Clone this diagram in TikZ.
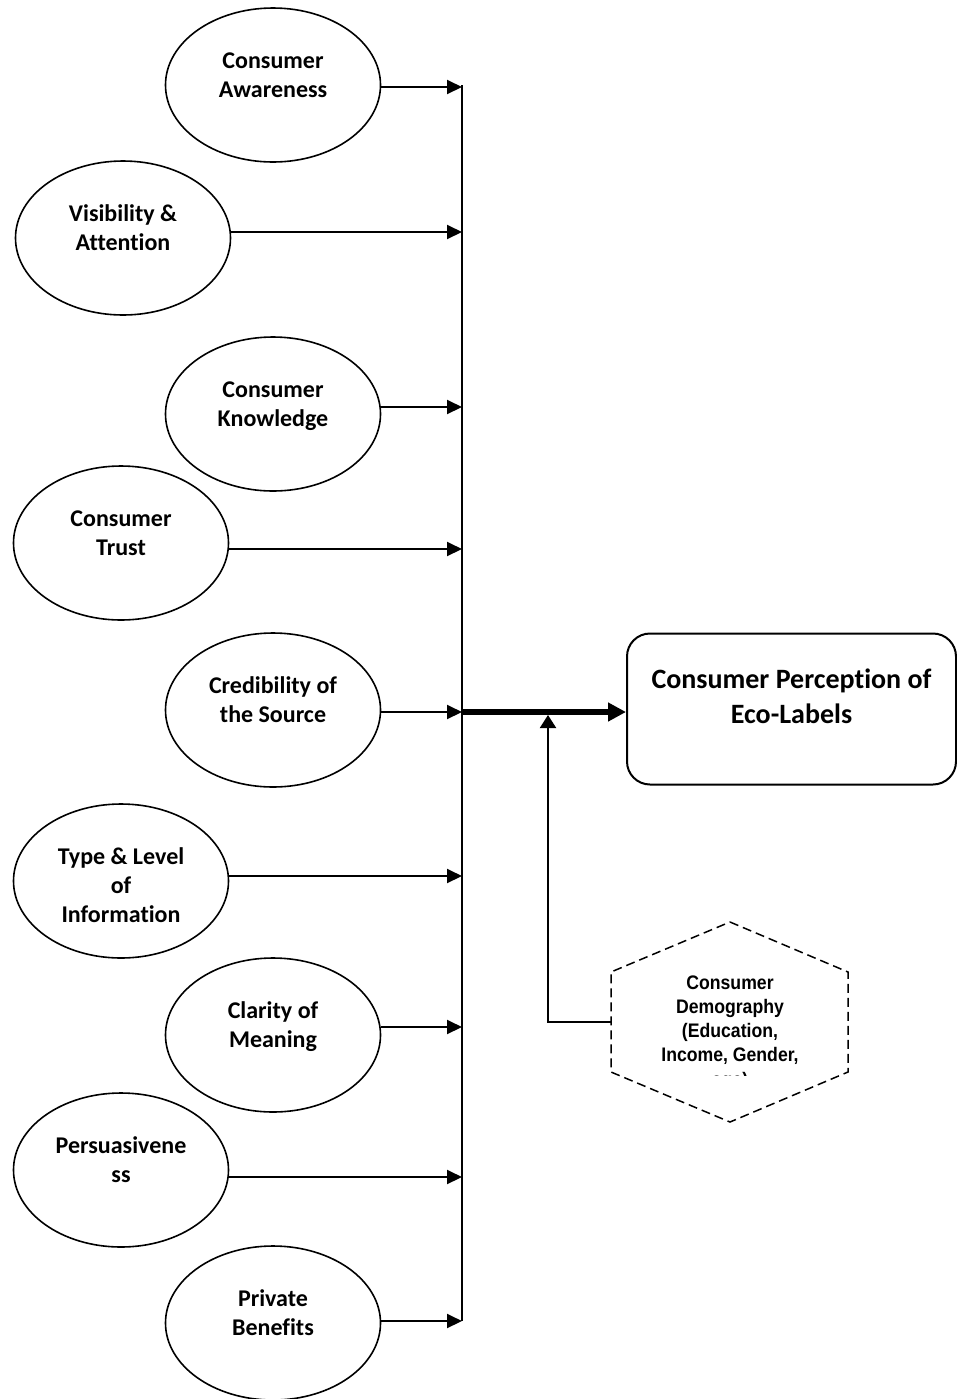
\documentclass[tikz,border=0pt]{standalone}
\usepackage{fontspec}
\setmainfont{Carlito}[Ligatures=NoCommon]
\newfontfamily\demofont{Liberation Sans}[FakeStretch=0.9]
\usetikzlibrary{arrows.meta,shapes.geometric}
\newcommand{\toptext}[2]{\raisebox{#1}[0pt][0pt]{\makebox[0pt]{\parbox[t]{200pt}{\centering #2}}}}

\begin{document}
\begin{tikzpicture}[x=0.5pt,y=-0.5pt,
     oval/.style={draw,ellipse,line width=0.8pt,inner sep=0pt,
       minimum width=107.5pt,minimum height=77pt,
       font=\bfseries\fontsize{12}{14.5}\selectfont},
     feed/.style={line width=1pt,-{Triangle[length=7.5pt,width=7pt]}}]
     \useasboundingbox (0,0) rectangle (957,1399);
     \node[oval] at (273,85) (aware) {\toptext{8.5pt}{Consumer\\Awareness}};
     \node[oval] at (123,238) (vis) {\toptext{8.5pt}{Visibility \&\\Attention}};
     \node[oval] at (273,414) (know) {\toptext{8.5pt}{Consumer\\Knowledge}};
     \node[oval] at (121,543) (trust) {\toptext{8.5pt}{Consumer\\Trust}};
     \node[oval] at (273,710) (cred) {\toptext{8.5pt}{Credibility of\\the Source}};
     \node[oval] at (121,881) (info) {\toptext{8.5pt}{Type \& Level\\of\\Information}};
     \node[oval] at (273,1035) (clar) {\toptext{8.5pt}{Clarity of\\Meaning}};
     \node[oval] at (121,1170) (pers) {\toptext{8.5pt}{Persuasivene\\ss}};
     \node[oval] at (273,1323) (priv) {\toptext{8.5pt}{Private\\Benefits}};
     \node[draw,rounded corners=11.5pt,line width=1pt,inner sep=0pt,
       minimum width=164.5pt,minimum height=75.5pt,
       font=\bfseries\fontsize{14}{17.5}\selectfont]
       at (791.5,709) (cpe) {\toptext{10.5pt}{Consumer Perception of\\Eco-Labels}};
     % bus
     \coordinate (bustop) at (462,85);
     \coordinate (busbot) at (462,1321);
     \draw[line width=1pt] (bustop) -- (busbot);
     \foreach \n/\y in {aware/87,vis/232,know/407,trust/549,cred/712,
                        info/876,clar/1027,pers/1177,priv/1321}
       {\coordinate (t\n) at (462,\y);
        \draw[feed] (\n.east |- t\n) -- (t\n);}
     \draw[line width=3pt,-{Triangle[length=9pt,width=9pt]}]
       (tcred) -- (cpe.west |- tcred);
     % demography
     \begin{scope}
       \clip (612,960) rectangle (848,1075);
       \node[inner sep=0pt,font=\demofont\bfseries\fontsize{9.8}{12.15}\selectfont]
         at (730,1022) (demog)
         {\toptext{16.5pt}{Consumer\\Demography\\(Education,\\Income, Gender,\\age)}};
     \end{scope}
     \draw[dashed,dash pattern=on 4.5pt off 2.5pt,line width=0.75pt]
       (demog.center) ++(0,-100) -- ++(118,50) -- ++(0,100) -- ++(-118,50)
       -- ++(-119,-50) -- ++(0,-100) -- cycle;
     \coordinate (hexw) at ([xshift=-59.5pt]demog.center);
     \coordinate (join) at (548,715);
     \draw[line width=1pt,-{Triangle[length=6.5pt,width=8pt]}] (hexw) -| (join);
\end{tikzpicture}
\end{document}
